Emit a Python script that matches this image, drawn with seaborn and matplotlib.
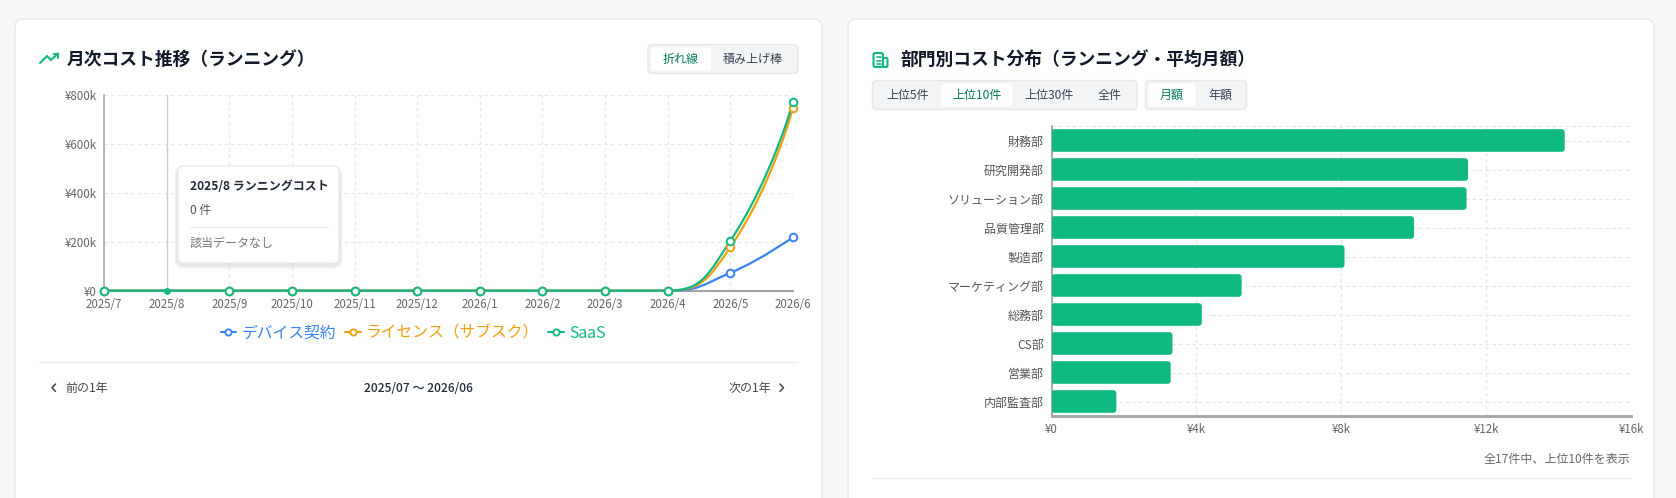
import math
import matplotlib
matplotlib.use('Agg')
import matplotlib.pyplot as plt
import seaborn as sns
from matplotlib.patches import FancyBboxPatch, PathPatch
from matplotlib.path import Path
from matplotlib.lines import Line2D

# --- data -------------------------------------------------------------
months = ['2025/7', '2025/8', '2025/9', '2025/10', '2025/11', '2025/12',
          '2026/1', '2026/2', '2026/3', '2026/4', '2026/5', '2026/6']
device = [0, 0, 0, 0, 0, 0, 0, 0, 0, 0, 73000, 219000]
license_sub = [0, 0, 0, 0, 0, 0, 0, 0, 0, 0, 178000, 748000]
saas = [0, 0, 0, 0, 0, 0, 0, 0, 0, 0, 204000, 770000]
series_names = ['デバイス契約', 'ライセンス（サブスク）', 'SaaS']
series_colors = ['#3b82f6', '#f59e0b', '#10b981']
y_ticks = [0, 200000, 400000, 600000, 800000]
y_labels = ['¥0', '¥200k', '¥400k', '¥600k', '¥800k']

depts = ['財務部', '研究開発部', 'ソリューション部', '品質管理部', '製造部',
         'マーケティング部', '総務部', 'CS部', '営業部', '内部監査部']
dept_cost = [14170, 11500, 11460, 10010, 8090, 5250, 4150, 3340, 3290, 1790]
x_ticks = [0, 4000, 8000, 12000, 16000]
x_labels = ['¥0', '¥4k', '¥8k', '¥12k', '¥16k']

W, H = 1676, 498
PT = 0.72  # px -> pt at dpi 100

sns.set_theme(style='white')
plt.rcParams['font.family'] = ['Noto Sans CJK JP', 'DejaVu Sans']

fig = plt.figure(figsize=(W / 100, H / 100), dpi=100, facecolor='#f7f8fa')


def overlay(z):
    a = fig.add_axes([0, 0, 1, 1], zorder=z)
    a.set_xlim(0, W)
    a.set_ylim(H, 0)
    a.axis('off')
    a.patch.set_alpha(0)
    return a


def fax(x0, y0, x1, y1):
    return [x0 / W, 1 - y1 / H, (x1 - x0) / W, (y1 - y0) / H]


def rbox(ax, x0, y0, x1, y1, r, fc, ec='none', lw=1, z=1, alpha=1):
    ax.add_patch(FancyBboxPatch((x0, y0), x1 - x0, y1 - y0,
                                boxstyle=f'round,pad=0,rounding_size={r}',
                                fc=fc, ec=ec, lw=lw, zorder=z, alpha=alpha))


bg = overlay(0)
fg = overlay(10)

# cards
rbox(bg, 15, 19, 822, 530, 8, 'white', '#e5e7eb')
rbox(bg, 848, 19, 1654, 530, 8, 'white', '#e5e7eb')

GREEN = '#10b981'
ACTIVE = '#047857'
TICK_PX = 11.5

# left header
bg.plot([40, 47, 51, 58], [63, 56, 60, 53.5], color=GREEN, lw=1.5, solid_capstyle='round')
bg.plot([53.5, 58, 58], [53.5, 53.5, 58], color=GREEN, lw=1.5, solid_capstyle='round')
bg.text(67, 60, '月次コスト推移（ランニング）', fontsize=17.8 * PT, fontweight='bold',
        color='#111827', va='center', ha='left')
rbox(bg, 648, 44.5, 798, 73.5, 4, '#f3f4f6', '#e5e7eb')
rbox(bg, 651, 47.5, 711, 70.5, 3, 'white')
bg.text(681, 59.5, '折れ線', fontsize=12 * PT, color=ACTIVE, ha='center', va='center')
bg.text(753, 59.5, '積み上げ棒', fontsize=12 * PT, color='#374151', ha='center', va='center')

# right header
bg.add_patch(FancyBboxPatch((873.5, 53), 9.5, 14, boxstyle='round,pad=0,rounding_size=1.8',
                            fc='none', ec=GREEN, lw=1.5))
bg.add_patch(FancyBboxPatch((883, 58), 4.5, 9, boxstyle='round,pad=0,rounding_size=1.2',
                            fc='none', ec=GREEN, lw=1.5))
for yy in (57, 60.5, 64):
    bg.plot([876.5, 880.5], [yy, yy], color=GREEN, lw=1.2)
bg.text(900, 60, '部門別コスト分布（ランニング・平均月額）', fontsize=17.8 * PT, fontweight='bold',
        color='#111827', va='center', ha='left')
rbox(bg, 872.5, 80.5, 1137, 109.5, 4, '#f3f4f6', '#e5e7eb')
rbox(bg, 941.5, 83.5, 1012.5, 106.5, 3, 'white')
for cx, s, act in [(908, '上位5件', False), (977, '上位10件', True),
                   (1049, '上位30件', False), (1110, '全件', False)]:
    bg.text(cx, 95.5, s, fontsize=12 * PT, color=ACTIVE if act else '#374151',
            ha='center', va='center')
rbox(bg, 1145.5, 80.5, 1246.5, 109.5, 4, '#f3f4f6', '#e5e7eb')
rbox(bg, 1148.5, 83.5, 1195.5, 106.5, 3, 'white')
bg.text(1172, 95.5, '月額', fontsize=12 * PT, color=ACTIVE, ha='center', va='center')
bg.text(1220, 95.5, '年額', fontsize=12 * PT, color='#374151', ha='center', va='center')

# --- left chart: monthly running cost -----------------------------------
ax1 = fig.add_axes(fax(104, 95, 793, 290.7), zorder=2)
ax1.patch.set_alpha(0)
ax1.set_xlim(0, len(months) - 1)
ax1.set_ylim(0, 800000)
xs = list(range(len(months)))
px_x = (793 - 104) / (len(months) - 1)
px_y = (290.7 - 95) / 800000


def smooth_path(xv, yv, smooth=0.5):
    # echarts-like smoothed line, computed in pixel space
    p = [(x * px_x, y * px_y) for x, y in zip(xv, yv)]
    n = len(p)
    verts = [p[0]]
    cp0 = p[0]
    for i in range(1, n):
        x, y = p[i]
        prx, pry = p[i - 1]
        if i == n - 1:
            cp1 = (x, y)
            nxt = (x, y)
        else:
            nx, ny = p[i + 1]
            vx, vy = nx - prx, ny - pry
            lp = math.hypot(x - prx, y - pry)
            ln = math.hypot(nx - x, ny - y)
            if lp == 0 or ln == 0:
                cp1 = (x, y)
                nxt = (x, y)
            else:
                ratio = ln / (ln + lp)
                ncx = x + vx * smooth * ratio
                ncy = y + vy * smooth * ratio
                ncx = min(max(ncx, min(nx, x)), max(nx, x))
                ncy = min(max(ncy, min(ny, y)), max(ny, y))
                vx, vy = ncx - x, ncy - y
                c1x = x - vx * lp / ln
                c1y = y - vy * lp / ln
                c1x = min(max(c1x, min(prx, x)), max(prx, x))
                c1y = min(max(c1y, min(pry, y)), max(pry, y))
                vx, vy = x - c1x, y - c1y
                cp1 = (c1x, c1y)
                nxt = (x + vx * ln / lp, y + vy * ln / lp)
        verts += [cp0, cp1, (x, y)]
        cp0 = nxt
    verts = [(vx_ / px_x, vy_ / px_y) for vx_, vy_ in verts]
    codes = [Path.MOVETO] + [Path.CURVE4] * (3 * (n - 1))
    return Path(verts, codes)


ax1.axvline(1, color='#cccccc', lw=1, zorder=1)
for vals, c in zip([device, license_sub, saas], series_colors):
    ax1.add_patch(PathPatch(smooth_path(xs, vals), fc='none', ec=c, lw=1.6,
                            zorder=3, clip_on=False))
for vals, c in zip([device, license_sub, saas], series_colors):
    idx = [i for i in xs if i != 1]
    sns.scatterplot(x=[xs[i] for i in idx], y=[vals[i] for i in idx], ax=ax1,
                    color='white', edgecolor=c, linewidth=1.4, s=30, zorder=4,
                    clip_on=False)
sns.scatterplot(x=[xs[1]], y=[saas[1]], ax=ax1, color=GREEN, linewidth=0, s=24,
                zorder=4, clip_on=False)

ax1.set_xticks(xs)
ax1.set_xticklabels(months)
ax1.set_yticks(y_ticks)
ax1.set_yticklabels(y_labels)
ax1.grid(True, ls=(0, (3, 3)), color='#e5e5e5', lw=0.8)
ax1.set_axisbelow(True)
for s in ('top', 'right'):
    ax1.spines[s].set_visible(False)
ax1.spines['left'].set_color('#9ca3af')
ax1.spines['left'].set_linewidth(1.1)
ax1.spines['bottom'].set_color('#a3a3a3')
ax1.spines['bottom'].set_linewidth(1.5)
ax1.tick_params(axis='both', length=3, color='#9ca3af', labelsize=TICK_PX * PT,
                labelcolor='#666666', pad=2.2)
ax1.set_xlabel('')
ax1.set_ylabel('')

handles = [Line2D([], [], color=c, lw=1.5, marker='o', markersize=4.5,
                  markerfacecolor='white', markeredgewidth=1.3) for c in series_colors]
fig.legend(handles, series_names, loc='center', bbox_to_anchor=(413 / W, 1 - 333 / H),
           ncol=3, frameon=False, fontsize=15.8 * PT, handlelength=1.0,
           handletextpad=0.3, columnspacing=0.6, labelcolor='linecolor')

# tooltip
for k, a in enumerate([0.025, 0.03, 0.04]):
    g = 4 - k
    rbox(fg, 178 - g, 167 - g + 2, 339 + g, 263 + g + 2, 6 + g, '#000000', z=1, alpha=a)
rbox(fg, 178, 166, 339, 263, 5, 'white', '#e5e7eb', lw=0.8, z=2)
fg.text(189.5, 186.5, '2025/8 ランニングコスト', fontsize=12 * PT, fontweight='bold',
        color='#1f2937', va='center', zorder=3)
fg.text(189.5, 210, '0 件', fontsize=12 * PT, color='#555555', va='center', zorder=3)
fg.plot([189.5, 328], [226.7, 226.7], color='#ececec', lw=1, zorder=3)
fg.text(189.5, 243.5, '該当データなし', fontsize=12 * PT, color='#777777', va='center', zorder=3)

# divider + navigation
bg.plot([39, 797], [362.3, 362.3], color='#eeeeee', lw=1)
bg.plot([55.5, 52, 55.5], [384, 387.7, 391.4], color='#444444', lw=1.1)
bg.text(65, 388, '前の1年', fontsize=12 * PT, color='#444444', va='center', ha='left')
bg.text(418, 388, '2025/07 〜 2026/06', fontsize=12 * PT, color='#1f2937',
        fontweight='medium', va='center', ha='center')
bg.text(771, 388, '次の1年', fontsize=12 * PT, color='#444444', va='center', ha='right')
bg.plot([780, 783.5, 780], [384, 387.7, 391.4], color='#444444', lw=1.1)

# --- right chart: cost by department --------------------------------------
ax2 = fig.add_axes(fax(1051.5, 126, 1631, 416), zorder=2)
ax2.patch.set_alpha(0)
sns.barplot(x=dept_cost, y=depts, ax=ax2, color=GREEN, saturation=1, width=0.78,
            orient='h', zorder=3)
ax2.set_xlim(0, 16000)
ax2.set_ylim(len(depts) - 0.5, -0.5)

r_x = 3 * 16000 / (1631 - 1051.5)
r_y = 3 / 29.0
for p in list(ax2.patches):
    x0, y0, w, h = p.get_x(), p.get_y(), p.get_width(), p.get_height()
    p.remove()
    ax2.add_patch(FancyBboxPatch((x0, y0), w, h,
                                 boxstyle=f'round,pad=0,rounding_size={r_x}',
                                 mutation_aspect=r_y / r_x, fc=GREEN, ec='none', zorder=3))

ax2.set_xticks(x_ticks)
ax2.set_xticklabels(x_labels)
ax2.grid(True, ls=(0, (3, 3)), color='#e3e3e3', lw=0.8)
ax2.axhline(-0.5, ls=(0, (3, 3)), color='#e3e3e3', lw=0.8, zorder=0)
ax2.set_axisbelow(True)
for s in ('top', 'right'):
    ax2.spines[s].set_visible(False)
ax2.spines['left'].set_color('#9ca3af')
ax2.spines['left'].set_linewidth(1.3)
ax2.spines['bottom'].set_color('#a3a3a3')
ax2.spines['bottom'].set_linewidth(2)
ax2.tick_params(axis='y', length=3, color='#9ca3af', labelsize=12 * PT,
                labelcolor='#555555', pad=2.5)
ax2.tick_params(axis='x', length=3, color='#9ca3af', labelsize=TICK_PX * PT,
                labelcolor='#666666', pad=2.2)
ax2.set_xlabel('')
ax2.set_ylabel('')

bg.text(1630, 459, '全17件中、上位10件を表示', fontsize=12 * PT, color='#666666',
        ha='right', va='center')
bg.plot([872.5, 1630], [478.3, 478.3], color='#eeeeee', lw=1)

fig.savefig('out.png', dpi=100, facecolor=fig.get_facecolor())
